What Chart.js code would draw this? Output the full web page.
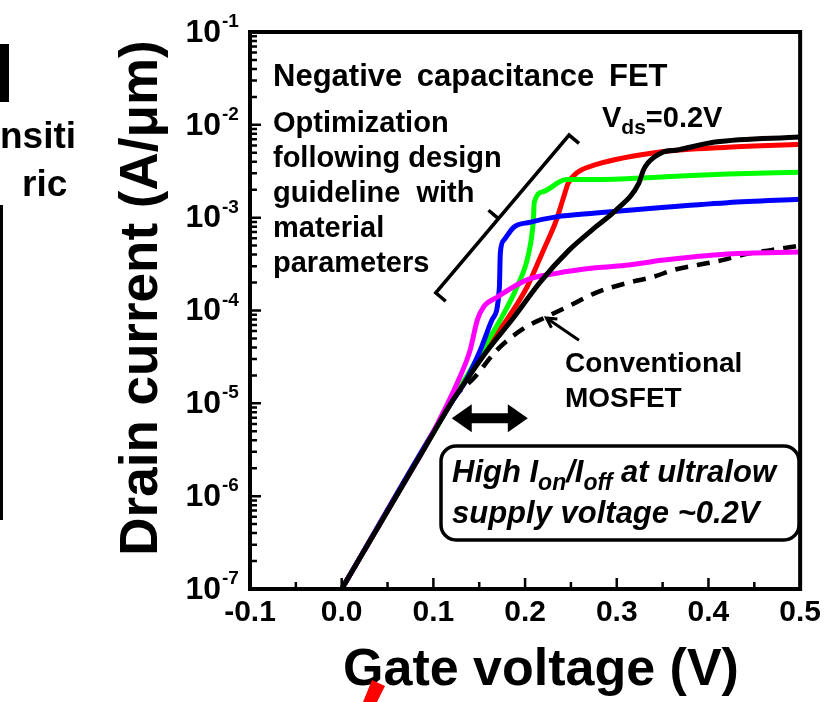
<!DOCTYPE html>
<html>
<head>
<meta charset="utf-8">
<script src="https://cdn.jsdelivr.net/npm/chart.js@4.4.0/dist/chart.umd.min.js"></script>
<style>
html,body{margin:0;padding:0;background:#fff;}
#wrap{position:relative;width:827px;height:702px;}
</style>
</head>
<body>
<div id="wrap"><canvas id="c" width="827" height="702"></canvas></div>
<script>
const FONT = '"Liberation Sans", Arial, sans-serif';

// gate voltage (V) and drain current (A/um)
const blackV = [0.0, 0.060, 0.090, 0.119, 0.134, 0.159, 0.188, 0.216, 0.248, 0.277, 0.299, 0.324, 0.329, 0.334, 0.349, 0.367, 0.407, 0.500];
const blackI = [1.0e-7, 1.02e-6, 3.25e-6, 1.0e-5, 1.66e-5, 3.72e-5, 8.51e-5, 2.0e-4, 4.47e-4, 7.94e-4, 1.2e-3, 2.34e-3, 3.24e-3, 3.89e-3, 5.01e-3, 5.37e-3, 6.53e-3, 7.41e-3];

const redV = [0.0, 0.119, 0.155, 0.180, 0.202, 0.220, 0.234, 0.242, 0.247, 0.256, 0.277, 0.349, 0.421, 0.500];
const redI = [1.0e-7, 1.0e-5, 3.72e-5, 7.94e-5, 1.78e-4, 4.47e-4, 9.33e-4, 1.66e-3, 2.34e-3, 3.02e-3, 3.72e-3, 5.13e-3, 5.75e-3, 6.17e-3];

const greenV = [0.0, 0.119, 0.153, 0.173, 0.191, 0.204, 0.209, 0.210, 0.220, 0.245, 0.277, 0.349, 0.421, 0.500];
const greenI = [1.0e-7, 1.0e-5, 3.72e-5, 7.94e-5, 1.78e-4, 4.17e-4, 9.33e-4, 1.45e-3, 1.91e-3, 2.57e-3, 2.57e-3, 2.75e-3, 2.95e-3, 3.09e-3];

const blueV = [0.0, 0.119, 0.134, 0.151, 0.164, 0.172, 0.173, 0.177, 0.188, 0.205, 0.234, 0.277, 0.349, 0.421, 0.500];
const blueI = [1.0e-7, 1.0e-5, 1.66e-5, 3.72e-5, 7.94e-5, 1.78e-4, 4.17e-4, 5.75e-4, 7.94e-4, 8.91e-4, 1.02e-3, 1.12e-3, 1.29e-3, 1.45e-3, 1.58e-3];

const magentaV = [0.0, 0.060, 0.090, 0.108, 0.126, 0.140, 0.148, 0.155, 0.169, 0.202, 0.234, 0.277, 0.313, 0.349, 0.385, 0.421, 0.500];
const magentaI = [1.0e-7, 1.02e-6, 3.25e-6, 7.08e-6, 1.66e-5, 3.72e-5, 7.94e-5, 1.10e-4, 1.38e-4, 2.14e-4, 2.51e-4, 2.88e-4, 3.09e-4, 3.47e-4, 3.80e-4, 4.07e-4, 4.27e-4];

const mosfetV = [0.0, 0.060, 0.110, 0.123, 0.145, 0.169, 0.199, 0.223, 0.248, 0.277, 0.313, 0.339, 0.363, 0.388, 0.414, 0.442, 0.468, 0.500];
const mosfetI = [1.0e-7, 1.02e-6, 7.1e-6, 1.17e-5, 1.91e-5, 3.72e-5, 6.46e-5, 8.51e-5, 1.12e-4, 1.55e-4, 2.0e-4, 2.29e-4, 2.75e-4, 3.09e-4, 3.47e-4, 4.07e-4, 4.47e-4, 5.01e-4];

const xTicks = [-0.1, 0.0, 0.1, 0.2, 0.3, 0.4, 0.5];
const xMinor = [-0.05, 0.05, 0.15, 0.25, 0.35, 0.45];
const yExp = [-7, -6, -5, -4, -3, -2, -1];

function pts(vs, is){ return vs.map((v,i)=>({x:v, y:is[i]})); }

function line(label, vs, is, color, width, dash){
  return {
    label, data: pts(vs, is), borderColor: color, borderWidth: width,
    borderDash: dash || [], pointRadius: 0, showLine: true, fill: false,
    cubicInterpolationMode: 'monotone', borderCapStyle: 'butt', borderJoinStyle: 'round'
  };
}

// TEXT HELPERS
function put(ctx, s, x, y, size, italic){
  ctx.font = (italic ? 'italic ' : '') + 'bold ' + size + 'px ' + FONT;
  ctx.fillText(s, x, y);
  return x + ctx.measureText(s).width;
}

function arrowHead(ctx, tx, ty, ang, len, half){
  ctx.beginPath();
  ctx.moveTo(tx, ty);
  ctx.lineTo(tx - len*Math.cos(ang) + half*Math.sin(ang), ty - len*Math.sin(ang) - half*Math.cos(ang));
  ctx.lineTo(tx - len*Math.cos(ang) - half*Math.sin(ang), ty - len*Math.sin(ang) + half*Math.cos(ang));
  ctx.closePath();
  ctx.fill();
}

const decor = {
  id: 'decor',
  afterDraw(chart){
    const ctx = chart.ctx, a = chart.chartArea;
    const xs = chart.scales.x, ys = chart.scales.y;
    const X = v => xs.getPixelForValue(v), Y = v => ys.getPixelForValue(v);
    ctx.save();
    ctx.fillStyle = '#000'; ctx.strokeStyle = '#000';

    // frame
    ctx.lineWidth = 4;
    ctx.strokeRect(a.left, a.top, a.right - a.left, a.bottom - a.top);

    // inward ticks
    ctx.lineWidth = 2.5;
    ctx.beginPath();
    xTicks.slice(1, -1).forEach(v => { ctx.moveTo(X(v), a.bottom); ctx.lineTo(X(v), a.bottom - 11); });
    xMinor.forEach(v => { ctx.moveTo(X(v), a.bottom); ctx.lineTo(X(v), a.bottom - 7); });
    yExp.slice(1, -1).forEach(e => { const y = Y(Math.pow(10, e)); ctx.moveTo(a.left, y); ctx.lineTo(a.left + 11, y); });
    yExp.slice(0, -1).forEach(e => {
      for (let k = 2; k <= 9; k++){ const y = Y(k*Math.pow(10, e)); ctx.moveTo(a.left, y); ctx.lineTo(a.left + 7, y); }
    });
    ctx.stroke();

    // y tick labels 10^n
    yExp.forEach(e => {
      const y = Y(Math.pow(10, e));
      ctx.textAlign = 'right'; ctx.textBaseline = 'middle';
      put(ctx, '10', 221, y + 1, 32);
      ctx.textAlign = 'left'; ctx.textBaseline = 'alphabetic';
      put(ctx, String(e), 222, y - 5, 19);
    });

    // axis titles
    ctx.textAlign = 'center'; ctx.textBaseline = 'alphabetic';
    put(ctx, 'Gate voltage (V)', 541, 685, 52);
    ctx.save();
    ctx.translate(157, 298);
    ctx.rotate(-Math.PI/2);
    put(ctx, 'Drain current (A/\u03bcm)', 0, 0, 53);
    ctx.restore();

    // annotations
    ctx.textAlign = 'left';
    ctx.wordSpacing = '6px';
    put(ctx, 'Negative capacitance FET', 273, 86, 31);
    ctx.wordSpacing = '0px';
    let x = put(ctx, 'V', 602, 127, 29);
    x = put(ctx, 'ds', x, 134, 21);
    put(ctx, '=0.2V', x, 127, 29);
    ['Optimization', 'following design', 'guideline  with', 'material', 'parameters']
      .forEach((s, i) => put(ctx, s, 273, 132 + i*35, 29));
    put(ctx, 'Conventional', 565, 372, 28);
    put(ctx, 'MOSFET', 565, 407, 28);

    // rounded box
    ctx.lineWidth = 3.5;
    ctx.beginPath();
    ctx.roundRect(441, 446, 358, 94, 15);
    ctx.stroke();
    x = put(ctx, 'High I', 452, 482, 31, true);
    x = put(ctx, 'on', x, 490, 23, true);
    x = put(ctx, '/I', x, 482, 31, true);
    x = put(ctx, 'off', x, 490, 23, true);
    put(ctx, ' at ultralow', x, 482, 31, true);
    put(ctx, 'supply voltage ~0.2V', 452, 523, 31, true);

    // bracket
    const b0 = {x: X(0.1026), y: Y(1.55e-4)}, b1 = {x: X(0.248), y: Y(7.76e-3)};
    const dx = b1.x - b0.x, dy = b1.y - b0.y, L = Math.hypot(dx, dy);
    const px = -dy / L, py = dx / L; // perpendicular toward curves
    const c = 13;
    const m = {x: b0.x + dx*0.47, y: b0.y + dy*0.47};
    ctx.lineWidth = 3.5; ctx.lineJoin = 'miter';
    ctx.beginPath();
    ctx.moveTo(b0.x + px*c, b0.y + py*c);
    ctx.lineTo(b0.x, b0.y);
    ctx.lineTo(b1.x, b1.y);
    ctx.lineTo(b1.x + px*c, b1.y + py*c);
    ctx.moveTo(m.x, m.y);
    ctx.lineTo(m.x - px*c, m.y - py*c);
    ctx.stroke();

    // double arrow
    const ay = Y(6.9e-6), ax0 = X(0.120), ax1 = X(0.203);
    ctx.lineWidth = 10; ctx.lineCap = 'butt';
    ctx.beginPath(); ctx.moveTo(ax0 + 15, ay); ctx.lineTo(ax1 - 15, ay); ctx.stroke();
    arrowHead(ctx, ax0, ay, Math.PI, 20, 14);
    arrowHead(ctx, ax1, ay, 0, 20, 14);

    // pointer to conventional MOSFET curve
    const t0 = {x: X(0.2588), y: Y(4.79e-5)}, t1 = {x: X(0.2233), y: Y(8.3e-5)};
    const ang = Math.atan2(t1.y - t0.y, t1.x - t0.x);
    ctx.lineWidth = 3;
    ctx.beginPath(); ctx.moveTo(t0.x, t0.y); ctx.lineTo(t1.x, t1.y); ctx.stroke();
    ctx.beginPath();
    ctx.moveTo(t1.x - 11*Math.cos(ang - 0.5), t1.y - 11*Math.sin(ang - 0.5));
    ctx.lineTo(t1.x, t1.y);
    ctx.lineTo(t1.x - 11*Math.cos(ang + 0.5), t1.y - 11*Math.sin(ang + 0.5));
    ctx.stroke();

    // pieces of the neighbouring slide content
    ctx.fillRect(0, 44, 9, 58);
    ctx.fillRect(0, 205, 3, 315);
    put(ctx, 'nsiti', 0, 148, 37);
    put(ctx, 'ric', 22, 196, 37);
    ctx.fillStyle = '#ff0000';
    ctx.beginPath();
    ctx.moveTo(372, 680); ctx.lineTo(385, 686); ctx.lineTo(377, 702); ctx.lineTo(363, 702);
    ctx.closePath(); ctx.fill();

    ctx.restore();
  }
};

new Chart(document.getElementById('c'), {
  type: 'scatter',
  data: {
    datasets: [
      line('NC-FET (black)', blackV, blackI, '#000000', 5),
      line('NC-FET (magenta)', magentaV, magentaI, '#ff00ff', 5),
      line('NC-FET (blue)', blueV, blueI, '#0000ff', 5),
      line('NC-FET (green)', greenV, greenI, '#00ff00', 5),
      line('NC-FET (red)', redV, redI, '#ff0000', 5),
      line('Conventional MOSFET', mosfetV, mosfetI, '#000000', 4.5, [13, 9])
    ]
  },
  options: {
    responsive: false,
    animation: false,
    devicePixelRatio: 1,
    layout: {padding: {left: 0, right: 20, top: 32, bottom: 0}},
    plugins: {legend: {display: false}, tooltip: {enabled: false}},
    scales: {
      x: {
        type: 'linear', min: -0.1, max: 0.5,
        afterBuildTicks: s => { s.ticks = xTicks.map(v => ({value: v})); },
        afterFit: s => { s.height = 113; },
        ticks: {
          font: {family: FONT, size: 30, weight: 'bold'}, color: '#000',
          padding: 6, maxRotation: 0, autoSkip: false,
          callback: v => v.toFixed(1)
        },
        grid: {display: false, drawTicks: false},
        border: {display: false}
      },
      y: {
        type: 'logarithmic', min: 1e-7, max: 1e-1,
        afterFit: s => { s.width = 250; },
        ticks: {display: false},
        grid: {display: false, drawTicks: false},
        border: {display: false}
      }
    }
  },
  plugins: [decor]
});
</script>
</body>
</html>
